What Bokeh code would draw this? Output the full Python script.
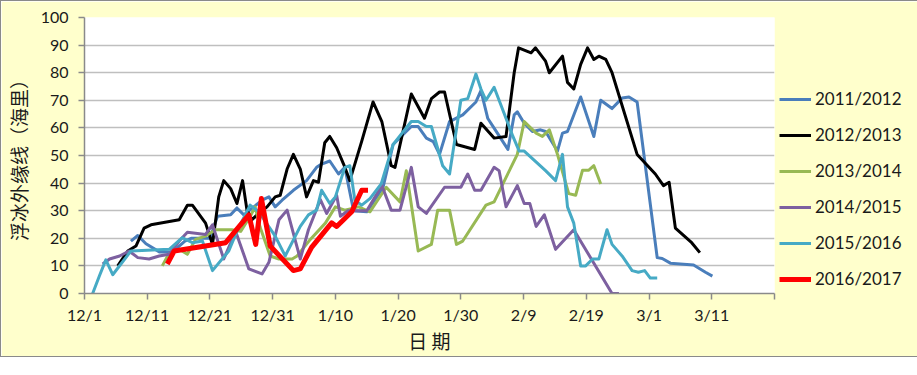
from bokeh.plotting import figure
from bokeh.models import Range1d, FixedTicker, Legend, LegendItem
from bokeh.embed import file_html
from bokeh.resources import INLINE

# ---- data (x = days since 12/1) ----
x_ticks = [0, 10, 20, 30, 40, 50, 60, 70, 80, 90, 100, 110]
x_tick_labels = ["12/1", "12/11", "12/21", "12/31", "1/10", "1/20", "1/30", "2/9", "2/19", "3/1", "3/11", ""]
y_ticks = [0, 10, 20, 30, 40, 50, 60, 70, 80, 90, 100]

season_names = ["2011/2012", "2012/2013", "2013/2014", "2014/2015", "2015/2016", "2016/2017"]
season_colors = ["#4A7EBB", "#000000", "#98B954", "#7D60A0", "#46AAC5", "#FF0000"]

d_1112 = [7.4, 8.5, 9.8, 12, 14, 16, 17, 20, 21.2, 23.3, 24.3, 25.4, 28.3, 29.4, 30.4, 31.5, 33.3, 35.4, 37, 37.8,
          39.1, 40.5, 41.5, 42.9, 45, 47.6, 49.2, 52.1, 53.2, 54.5, 55.6, 56.6, 58.2, 60.3, 62.4, 63.2, 64.3, 65.3,
          67.5, 68.5, 69, 70.1, 71.4, 72.7, 73.5, 75.4, 76.2, 77, 79.1, 81.2, 82.3, 84.1, 85.7, 86.8, 88.1, 91.3,
          92.1, 93.4, 97.1, 99, 100.1]
v_1112 = [19, 21, 18, 15, 15, 19, 20, 20, 28, 28.5, 31, 28.5, 33.8, 35, 31.4, 33.8, 37.4, 40.9, 45.7, 46.9,
          48, 43.3, 45.7, 30, 29.6, 38.5, 54, 60.5, 60.5, 56.3, 55, 50.4, 62.3, 64.7, 69.4, 73.5, 63.4, 59.9,
          52.2, 64.7, 65.8, 61.7, 58.7, 59.3, 58.7, 51.6, 58.1, 58.7, 71.2, 56.9, 70, 67, 70.8, 71.2, 69.4, 13,
          12.7, 11, 10.3, 7.7, 6.3]

d_1213 = [5.3, 6.9, 8.2, 9.5, 10.6, 15.1, 16.4, 17.2, 19.3, 20.4, 21.4, 22.2, 23.3, 24.3, 25.2, 25.9, 26.7, 27.5,
          29.1, 30.4, 31.2, 32.3, 33.3, 34.4, 35.4, 36.5, 37.3, 38.3, 39.1, 40.2, 41.3, 42.3, 44.2, 46, 47.4, 48.9,
          49.5, 52.1, 54.2, 55.3, 56.6, 57.4, 59.3, 62.2, 63.2, 65.3, 67.2, 68.5, 69.2, 71.2, 71.9, 73.5, 74.1,
          76.2, 77, 78, 79.1, 80.2, 81.2, 82, 83.1, 84.1, 88.1, 91, 92.3, 93.2, 94.2, 96.8, 98.1]
v_1213 = [10, 15.4, 17.2, 23.7, 24.9, 26.7, 32, 32, 25.5, 17.8, 35, 40.9, 38, 32.6, 40.9, 30.2, 26.7, 28.5,
          31.4, 35, 35.6, 45.1, 50.4, 45.1, 35, 40.9, 40.3, 54.6, 56.9, 52.8, 46.9, 40.9, 55.2, 69.4, 62.3, 46.3,
          45.7, 72.3, 63.5, 70.6, 73, 73, 54, 52.2, 61.7, 56.3, 56.9, 80, 89, 87.2, 89, 84.2, 80,
          86, 76.5, 74.1, 83, 89, 84.8, 86, 84.8, 80, 50.4, 43.3, 39.1, 40.3, 23.7, 18.4, 14.8]

d_1314 = [12.4, 13.4, 15.1, 16.4, 17.7, 19.3, 20.9, 23.5, 24.9, 26.4, 27.2, 28, 29.6, 31, 33.1, 33.9, 36, 38.4,
          40, 41.5, 43.7, 45.5, 48.1, 50.3, 51.3, 53.2, 55.3, 56.3, 58.2, 59.3, 60.3, 64, 65.3, 69, 70.1, 72, 73,
          74.1, 75.4, 77.2, 78.3, 79.4, 80.4, 81.2, 82.3]
v_1314 = [10, 14.2, 16, 14.2, 19.6, 20.8, 23.1, 23.1, 22.5, 27.9, 31.4, 24, 13.6, 12.5, 12.5, 13.6, 19.6, 25.5,
          31.4, 30.2, 31.4, 29.6, 38.5, 33.2, 44.5, 15.4, 17.8, 30.2, 30.2, 17.8, 19, 32, 33.2, 50.4, 62.3, 58.1,
          56.9, 59.3, 50.4, 36.2, 35.6, 44.7, 44.7, 46.3, 39.7]

d_1415 = [2.9, 4, 5.6, 7.1, 8.5, 10.3, 11.9, 13.5, 15.1, 16.4, 19.3, 20.4, 22.2, 24.1, 26.2, 28.3, 29.4, 31,
          32.3, 34.4, 35.7, 37.6, 38.6, 40.2, 40.8, 42, 45, 47.4, 48.9, 50.3, 52.1, 53.2, 54.5, 57.4, 60, 61.1,
          62.2, 63.2, 65.3, 66.1, 67.2, 69, 70.1, 71, 72, 73.3, 75.1, 78, 84.1, 85.2]
v_1415 = [10.7, 12.5, 13.6, 15.4, 13, 12.5, 13.6, 14.2, 19, 22.2, 21.4, 24.9, 12.5, 22.5, 8.9, 7.1, 11.3, 26.7,
          30.2, 12.5, 23.1, 34, 29, 35.6, 28, 30, 30, 39.1, 30.2, 30.2, 45.7, 31.4, 29, 38.5, 38.5, 43.3,
          37.4, 37.4, 45.7, 44.5, 31.4, 39.1, 32.6, 32.6, 24.3, 28.5, 16, 23.1, 0, 0]

d_1516 = [1.3, 2.4, 3.4, 4.5, 7.4, 13.5, 15.6, 17.2, 18.8, 20.4, 23, 24.3, 26.4, 27.8, 30.4, 32, 34.4, 35.7, 37,
          37.8, 39.1, 40, 41.5, 42.3, 43.1, 44.2, 45.5, 47.3, 49.2, 52.1, 53.2, 54.5, 55.3, 57.1, 58.2, 60, 61.1,
          62.4, 63.2, 64, 65.3, 66.4, 68.3, 69.3, 70.1, 73.5, 75.1, 76.2, 77, 78, 79.1, 79.9, 81, 82, 83.3, 84.1,
          85.7, 87.3, 88.3, 89.3, 90.2, 91.3]
v_1516 = [0, 6.5, 12.2, 6.8, 15.4, 16, 20.2, 18.4, 19, 8.3, 15.4, 22.5, 32, 29.6, 20.8, 13.6, 24.3, 28.5, 30.2,
          37.4, 32.6, 35, 45.7, 46.3, 33.8, 32, 34.4, 39.7, 54, 62.3, 62.3, 60.5, 60.5, 46.3, 43.3, 70, 70.6,
          79.5, 74.1, 70, 74.7, 68.2, 56.9, 51.6, 51.6, 44.5, 40.9, 50.4, 31.4, 25.5, 10, 10, 12.5, 12.5, 23.1, 17.8,
          13.6, 8.3, 7.7, 8.3, 5.6, 5.6]

d_1617 = [13.2, 14.3, 22.5, 26.2, 27.3, 28.2, 29.6, 33.3, 34.4, 36.2, 39.4, 40.2, 42.6, 44.2, 45.2]
v_1617 = [10.7, 15.4, 18.4, 28.5, 17.8, 34.4, 17.2, 8.3, 8.9, 16.7, 25.6, 24.3, 29.6, 37.4, 37.4]

series_days = [d_1112, d_1213, d_1314, d_1415, d_1516, d_1617]
series_vals = [v_1112, v_1213, v_1314, v_1415, v_1516, v_1617]
series_widths = [3, 3, 3, 3, 3, 5]

BG = "#FFFFCC"
p = figure(frame_width=690, frame_height=276, output_backend="svg", toolbar_location=None,
           x_range=Range1d(0, 110), y_range=Range1d(0, 100),
           min_border_left=72, min_border_right=136, min_border_top=16, min_border_bottom=60,
           background_fill_color="white", border_fill_color=BG,
           styles={"border": "1.5px solid #8A8A8A"})
p.outline_line_color = None

items = []
for name, col, dd, vv, w in zip(season_names, season_colors, series_days, series_vals, series_widths):
    r = p.line(dd, vv, line_color=col, line_width=w, line_join="round")
    items.append(LegendItem(label=name, renderers=[r]))

legend = Legend(items=items, location="top_left", glyph_width=32, glyph_height=20, label_height=20,
                spacing=15, padding=2, margin=3, label_standoff=4,
                title=" ", title_text_font_size="53px", title_text_alpha=0, title_standoff=5,
                background_fill_alpha=0, border_line_alpha=0,
                label_text_font="Lato", label_text_font_size="17px", label_text_color="#1A1A1A")
p.add_layout(legend, "right")

p.xgrid.grid_line_color = None
p.ygrid.grid_line_color = "#BFBFBF"
p.ygrid.grid_line_width = 1.5

p.xaxis.ticker = FixedTicker(ticks=x_ticks)
p.xaxis.major_label_overrides = {t: lab for t, lab in zip(x_ticks, x_tick_labels)}
p.yaxis.ticker = FixedTicker(ticks=y_ticks)

for ax in (p.xaxis[0], p.yaxis[0]):
    ax.axis_line_color = "#8A8A8A"
    ax.axis_line_width = 1.5
    ax.major_tick_line_color = "#8A8A8A"
    ax.major_tick_line_width = 1.5
    ax.major_tick_out = 6
    ax.major_tick_in = 0
    ax.minor_tick_line_color = None
    ax.major_label_text_font = "Lato"
    ax.major_label_text_font_size = "16px"
    ax.major_label_text_color = "#1A1A1A"
    ax.axis_label_text_font = "Noto Sans CJK SC"
    ax.axis_label_text_font_style = "normal"
    ax.axis_label_text_color = "#1A1A1A"

p.yaxis.major_label_standoff = 10
p.yaxis.axis_label = "浮冰外缘线（海里）"
p.yaxis.axis_label_text_font_size = "19px"
p.yaxis.axis_label_standoff = 6

p.xaxis.major_label_standoff = 5
p.xaxis.axis_label = "日 期"
p.xaxis.axis_label_text_font_size = "19px"
p.xaxis.axis_label_standoff = 0

open("out.html", "w").write(file_html(p, INLINE))
